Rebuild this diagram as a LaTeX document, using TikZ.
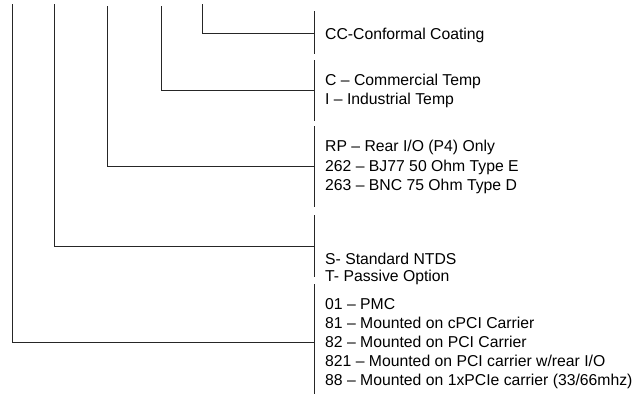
\documentclass[tikz,border=0pt]{standalone}
\usepackage{fontspec}
\setmainfont{Liberation Sans}
\begin{document}
\begin{tikzpicture}[x=1pt,y=-1pt,
  conn/.style={draw=black!85,line width=0.8pt},
  bar/.style={draw=black!85,line width=0.8pt},
  lbl/.style={anchor=base west,inner sep=0pt,font=\fontsize{15.75}{18}\selectfont,text=black}]
\useasboundingbox (0,0) rectangle (634,394);
% top ends of the code columns
\coordinate (t1) at (12,4);
\coordinate (t2) at (54,4);
\coordinate (t3) at (107,6);
\coordinate (t4) at (161,6);
\coordinate (t5) at (202,4);
% joints on the bracket bars
\coordinate (j5) at (314,33);
\coordinate (j4) at (314,90);
\coordinate (j3) at (314,166);
\coordinate (j2) at (314,246);
\coordinate (j1) at (314,342);
% connectors
\draw[conn] (t5) |- (j5);
\draw[conn] (t4) |- (j4);
\draw[conn] (t3) |- (j3);
\draw[conn] (t2) |- (j2);
\draw[conn] (t1) |- (j1);
% bracket bars
\coordinate (b5a) at (314,11);  \coordinate (b5b) at (314,54);
\coordinate (b4a) at (314,60);  \coordinate (b4b) at (314,121);
\coordinate (b3a) at (314,126); \coordinate (b3b) at (314,207);
\coordinate (b2a) at (314,215); \coordinate (b2b) at (314,277);
\coordinate (b1a) at (314,284); \coordinate (b1b) at (314,394);
\draw[bar] (b5a) -- (b5b);
\draw[bar] (b4a) -- (b4b);
\draw[bar] (b3a) -- (b3b);
\draw[bar] (b2a) -- (b2b);
\draw[bar] (b1a) -- (b1b);
% labels
\node[lbl] (cc)  at (325,39)    {CC-Conformal Coating};
\node[lbl] (c)   at (325,85)    {C – Commercial Temp};
\node[lbl] (i)   at (325,104.5) {I – Industrial Temp};
\node[lbl] (rp)  at (325,151.5) {RP – Rear I/O (P4) Only};
\node[lbl] (o262) at (325,171)  {262 – BJ77 50 Ohm Type E};
\node[lbl] (o263) at (325,190.5){263 – BNC 75 Ohm Type D};
\node[lbl] (s)   at (325,264.5) {S- Standard NTDS};
\node[lbl] (t)   at (325,281.5) {T- Passive Option};
\node[lbl] (o01) at (325,309.5) {01 – PMC};
\node[lbl] (o81) at (325,328.5) {81 – Mounted on cPCI Carrier};
\node[lbl] (o82) at (325,347)   {82 – Mounted on PCI Carrier};
\node[lbl] (o821) at (325,366.5){821 – Mounted on PCI carrier w/rear I/O};
\node[lbl] (o88) at (325,385.5) {88 – Mounted on 1xPCIe carrier (33/66mhz)};
\end{tikzpicture}
\end{document}
